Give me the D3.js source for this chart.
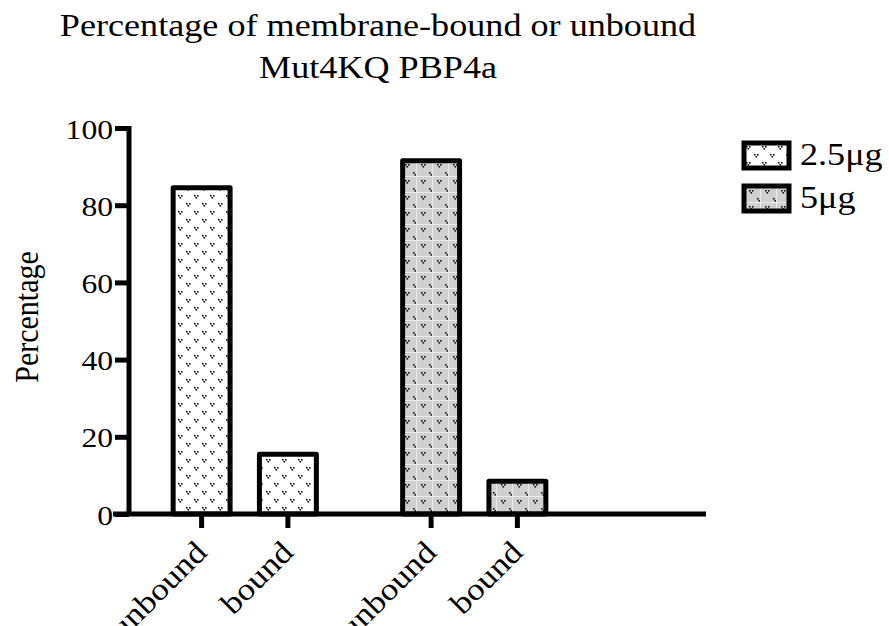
<!DOCTYPE html>
<html><head><meta charset="utf-8">
<script src="https://cdn.jsdelivr.net/npm/d3@7"></script>
<style>body{margin:0;background:#fff}svg{display:block}text{font-family:"Liberation Serif","Times New Roman",serif;fill:#000}</style>
</head><body><svg id="c" width="889" height="626"></svg>
<script>
const groups = ["2.5μg","5μg"];
const categories = ["unbound","bound"];
const values25 = [84.5, 15.5];
const values5 = [91.5, 8.5];
const yTicks = [0,20,40,60,80,100];
const titleLines = ["Percentage of membrane-bound or unbound","Mut4KQ PBP4a"];
const yLabel = "Percentage";

const SX = 1.13; // horizontal text stretch seen in the reference
const series = [values25, values5];
const data = [];
groups.forEach((g,gi)=>categories.forEach((c,ci)=>data.push({g,c,v:series[gi][ci],gi})));

const svg = d3.select("#c");
const defs = svg.append("defs");
function motif(p, x, y){
  [[0,0],[3,0],[1.5,2]].forEach(([dx,dy])=>p.append("rect").attr("x",x+dx).attr("y",y+dy).attr("width",1.6).attr("height",1.6).attr("fill","#111"));
}
const p1 = defs.append("pattern").attr("id","pat0").attr("patternUnits","userSpaceOnUse").attr("width",16).attr("height",16);
p1.append("rect").attr("width",16).attr("height",16).attr("fill","#fff");
motif(p1,2,3); motif(p1,10,11);
const p2 = defs.append("pattern").attr("id","pat1").attr("patternUnits","userSpaceOnUse").attr("width",16).attr("height",16);
p2.append("rect").attr("width",16).attr("height",16).attr("fill","#d0d0d0");
p2.append("rect").attr("x",0).attr("y",0).attr("width",16).attr("height",1).attr("fill","#ececec");
p2.append("rect").attr("x",0).attr("y",0).attr("width",1).attr("height",16).attr("fill","#ececec");
motif(p2,5,4); motif(p2,13,12);

const y = d3.scaleLinear().domain([0,100]).range([514,128]);
const x0 = d3.scaleBand().domain(groups).range([130,589]);
const x1 = d3.scaleBand().domain(categories).range([0,x0.bandwidth()]).paddingInner(0.34).paddingOuter(0.5);

// bars
svg.append("g").selectAll("rect").data(data).join("rect")
  .attr("x",d=>x0(d.g)+x1(d.c))
  .attr("y",d=>y(d.v))
  .attr("width",x1.bandwidth())
  .attr("height",d=>y(0)-y(d.v))
  .attr("fill",d=>`url(#pat${d.gi})`)
  .attr("stroke","#000").attr("stroke-width",5).attr("stroke-linejoin","round");

// y axis
const ya = svg.append("g").attr("transform","translate(129,0)")
  .call(d3.axisLeft(y).tickValues(yTicks).tickSize(14).tickPadding(2));
ya.select(".domain").attr("stroke-width",5).attr("d",`M0,${y(100)-2}V${y(0)}`);
ya.selectAll(".tick line").attr("stroke-width",5);
ya.selectAll(".tick text").attr("font-size",28).attr("font-family","Liberation Serif")
  .attr("x",-16/SX).attr("dy","0.36em").attr("transform",`scale(${SX},1)`);

// x axis
const xa = svg.append("g").attr("transform",`translate(0,${y(0)})`);
xa.append("line").attr("x1",113).attr("x2",706).attr("stroke","#000").attr("stroke-width",5);
const tickG = xa.selectAll("g.t").data(data).join("g").attr("class","t")
  .attr("transform",d=>`translate(${x0(d.g)+x1(d.c)+x1.bandwidth()/2},0)`);
tickG.append("line").attr("y1",0).attr("y2",14).attr("stroke","#000").attr("stroke-width",5);
tickG.append("text").text(d=>d.c).attr("font-size",31).attr("text-anchor","end")
  .attr("transform",`translate(7,40) rotate(-45) scale(${SX},1)`);

// title
const t = svg.append("text").attr("text-anchor","middle").attr("font-size",32)
  .attr("transform",`translate(378,0) scale(${SX},1)`);
titleLines.forEach((l,i)=>t.append("tspan").attr("x",0).attr("y",36+i*42).text(l));

// y label
svg.append("text").attr("transform",`translate(38,317) scale(${SX},1) rotate(-90)`).attr("text-anchor","middle").attr("font-size",30).text(yLabel);

// legend
const lg = svg.append("g").selectAll("g").data(groups).join("g")
  .attr("transform",(d,i)=>`translate(744,${143+i*43})`);
lg.append("rect").attr("width",45).attr("height",25).attr("fill",(d,i)=>`url(#pat${i})`).attr("stroke","#000").attr("stroke-width",5);
lg.append("text").attr("transform",`translate(56,22) scale(${SX},1)`).attr("font-size",32).text(d=>d);
</script></body></html>
